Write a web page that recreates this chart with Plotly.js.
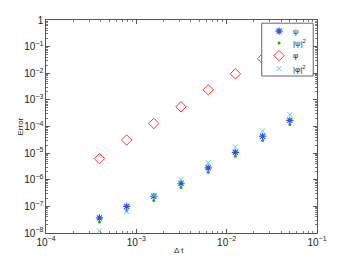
<!DOCTYPE html>
<html><head><meta charset="utf-8">
<script src="https://cdn.plot.ly/plotly-3.0.1.min.js"></script>
<style>html,body{margin:0;padding:0;background:#fff}#g{width:350px;height:263px}</style>
</head><body><div id="g"></div>
<script>
const dt = [0.000390625, 0.00078125, 0.0015625, 0.003125, 0.00625, 0.0125, 0.025, 0.05];
const errPsi = [3.7e-8, 1.0e-7, 2.4e-7, 7.4e-7, 2.8e-6, 1.07e-5, 4.3e-5, 1.7e-4];
const errPsi2 = [2.6e-8, 7.0e-8, 1.66e-7, 5.1e-7, 1.9e-6, 7.6e-6, 3.0e-5, 1.2e-4];
const errPhi = [6.2e-6, 3.1e-5, 1.3e-4, 5.5e-4, 2.4e-3, 9.5e-3, 0.035, 0.14];
const errPhi2 = [1.2e-8, 6.4e-8, 2.6e-7, 1.0e-6, 4.3e-6, 1.7e-5, 6.8e-5, 2.8e-4];
const names = ['ψ', '|ψ|<sup>2</sup>', 'φ', '|φ|<sup>2</sup>'];
const xLabel = 'Δ t';
const yLabel = 'Error';

const FONT = 'Liberation Sans, Arial, sans-serif';
const markers = [
  {symbol: 'asterisk-open', size: 6, color: '#2f4fff', line: {color: '#2f4fff', width: 1.2}},
  {symbol: 'circle', size: 3, color: '#1fa81f'},
  {symbol: 'diamond-open', size: 8, color: '#ff3030', line: {color: '#ff3030', width: 1}},
  {symbol: 'x-thin-open', size: 5, color: '#44e8b8', line: {color: '#44e8b8', width: 1}}
];
const series = [errPsi, errPsi2, errPhi, errPhi2];

const traces = series.map((ys, i) => ({
  x: dt, y: ys, name: names[i], mode: 'markers', type: 'scatter', marker: markers[i], showlegend: false
}));

// custom legend (box + sample markers) on an overlay in [0,1] coordinates
const legBox = {x0: 0.796, x1: 0.986, y0: 0.737, y1: 0.985};
const legRows = [0.948, 0.892, 0.833, 0.772];
const legMarkX = 0.86, legTextX = 0.905;
traces.push({
  x: [legBox.x0, legBox.x1, legBox.x1, legBox.x0, legBox.x0],
  y: [legBox.y0, legBox.y0, legBox.y1, legBox.y1, legBox.y0],
  xaxis: 'x2', yaxis: 'y2', mode: 'lines', fill: 'toself', fillcolor: '#fff',
  line: {color: '#666', width: 1}, showlegend: false, hoverinfo: 'skip', cliponaxis: false
});
markers.forEach((m, i) => traces.push({
  x: [legMarkX], y: [legRows[i]], xaxis: 'x2', yaxis: 'y2', mode: 'markers', marker: m,
  showlegend: false, cliponaxis: false
}));

const annotations = names.map((n, i) => ({
  xref: 'paper', yref: 'paper', x: legTextX, y: legRows[i], xanchor: 'left', yanchor: 'middle',
  text: n, showarrow: false, font: {family: FONT, size: 8, color: '#222'}
}));
annotations.push({xref: 'paper', yref: 'paper', x: 0.49, y: 0, yshift: -17, xanchor: 'center', yanchor: 'middle',
  text: xLabel, showarrow: false, font: {family: FONT, size: 8, color: '#222'}});
annotations.push({xref: 'paper', yref: 'paper', x: 0, y: 0.5, xshift: -26, xanchor: 'center', yanchor: 'middle',
  textangle: -90, text: yLabel, showarrow: false, font: {family: FONT, size: 8, color: '#222'}});

const axisCommon = {
  type: 'log', showgrid: false, zeroline: false, showline: true, linecolor: '#555', linewidth: 1,
  mirror: 'allticks', ticks: 'inside', ticklen: 4, tickcolor: '#555', dtick: 1,
  exponentformat: 'power', tickfont: {family: FONT, size: 8, color: '#222'},
  minor: {ticks: 'inside', ticklen: 2, tickcolor: '#777'}
};

const layout = {
  width: 350, height: 263,
  margin: {l: 46, r: 33, t: 20, b: 30},
  paper_bgcolor: '#fff', plot_bgcolor: '#fff',
  showlegend: false,
  annotations: annotations,
  xaxis: Object.assign({}, axisCommon, {range: [-4, -1]}),
  yaxis: Object.assign({}, axisCommon, {range: [-8, 0]}),
  xaxis2: {overlaying: 'x', anchor: 'y2', range: [0, 1], visible: false, fixedrange: true},
  yaxis2: {overlaying: 'y', anchor: 'x2', range: [0, 1], visible: false, fixedrange: true}
};

Plotly.newPlot('g', traces, layout, {staticPlot: true, displayModeBar: false});
</script></body></html>
